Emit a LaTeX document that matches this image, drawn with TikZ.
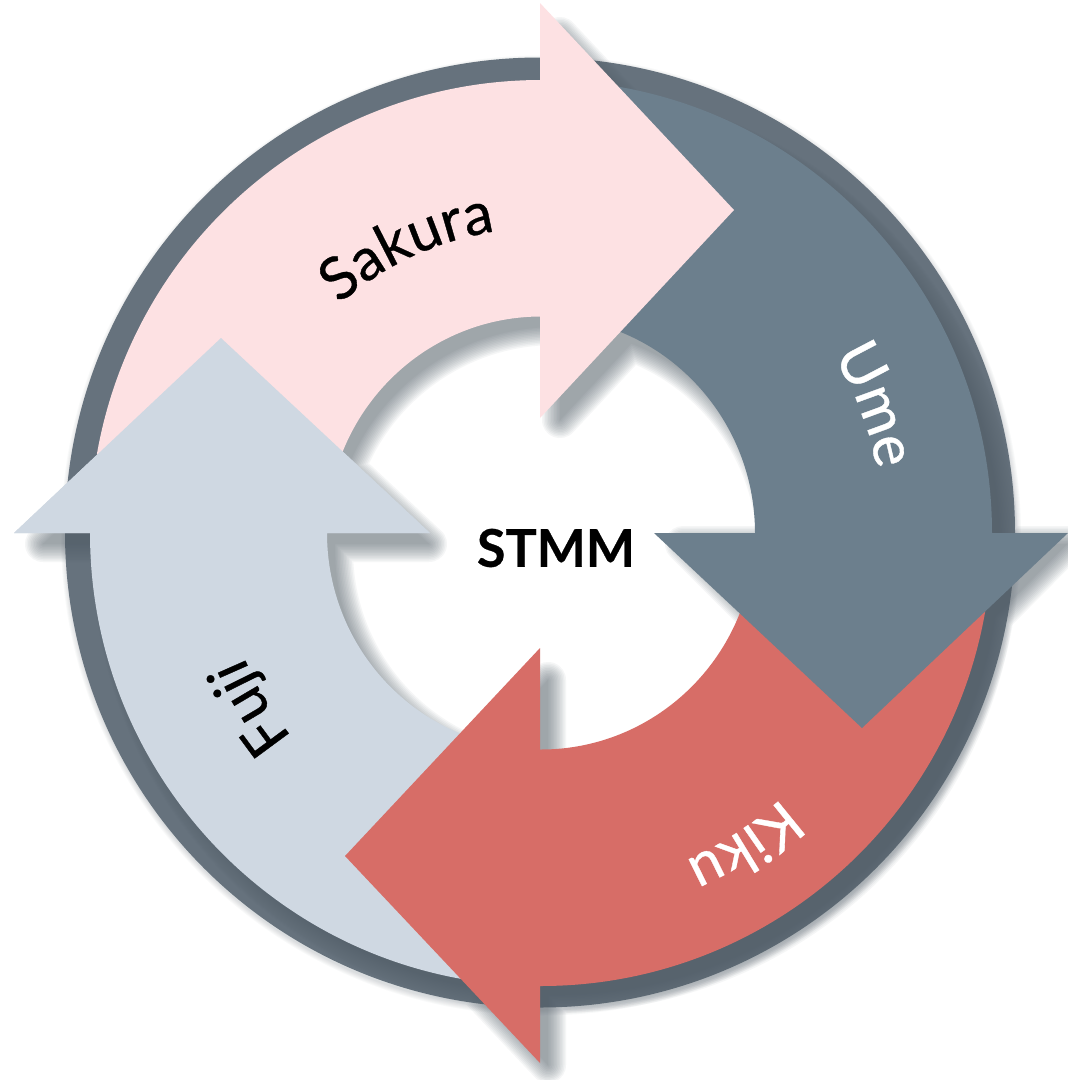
\documentclass[tikz,border=0pt]{standalone}
\usepackage{fontspec}
\usetikzlibrary{decorations.text}
\setmainfont{Lato}
\newfontfamily\lblfont{Lato}[FakeBold=0.6]
\newfontfamily\titlefont{Lato Bold}[FakeBold=0.5]
\definecolor{ringc}{HTML}{66727D}
\definecolor{sakurac}{HTML}{FDE1E3}
\definecolor{umec}{HTML}{6C7F8D}
\definecolor{kikuc}{HTML}{D76D67}
\definecolor{fujic}{HTML}{CFD8E2}
\definecolor{shadowc}{HTML}{505C66}
\newcommand\pathSakura{(541,-533) ++(170:451 and 453) arc[start angle=170,end angle=90,x radius=451,y radius=453] -- (540,-80) -- (540,-3) -- (734,-210) -- (540,-418) -- (540,-316.5) -- (541,-316.5) arc[start angle=90,end angle=170,x radius=214,y radius=216.5] -- cycle}
\newcommand\pathUme{(541,-533) ++(85:451 and 453) arc[start angle=85,end angle=0,x radius=451,y radius=453] -- (1068,-533) -- (862,-728) -- (654,-533) -- (755,-533) arc[start angle=0,end angle=85,x radius=214,y radius=216.5] -- cycle}
\newcommand\pathKiku{(541,-533) ++(-5:451 and 453) arc[start angle=-5,end angle=-90,x radius=451,y radius=453] -- (540,-986) -- (540,-1063) -- (345,-856) -- (540,-648) -- (540,-749.5) -- (541,-749.5) arc[start angle=-90,end angle=-5,x radius=214,y radius=216.5] -- cycle}
\newcommand\pathFuji{(541,-533) ++(-95:451 and 453) arc[start angle=-95,end angle=-180,x radius=451,y radius=453] -- (14,-533) -- (221,-338) -- (430,-533) -- (327,-533) arc[start angle=-180,end angle=-95,x radius=214,y radius=216.5] -- cycle}
\newcommand\pathRing{(540,-532.5) circle[radius=475] (540,-532.5) circle[radius=400]}
% the same arrows, inset by 6 units, from which the soft shadows grow
\newcommand\insetSakura{(541,-533) ++(170:445) arc[start angle=170,end angle=90,radius=445] -- (546,-88) -- (546,-18) -- (726,-210) -- (546,-403) -- (546,-310) -- (541,-310) arc[start angle=90,end angle=170,radius=223] -- cycle}
\newcommand\insetUme{(541,-533) ++(85:445) arc[start angle=85,end angle=0,radius=445] -- (986,-527) -- (1053,-527) -- (862,-720) -- (669,-527) -- (761,-527) -- (761,-533) arc[start angle=0,end angle=85,radius=220] -- cycle}
\newcommand\insetKiku{(541,-533) ++(-5:445) arc[start angle=-5,end angle=-90,radius=445] -- (534,-978) -- (534,-1048) -- (353,-856) -- (534,-663) -- (534,-753) -- (541,-753) arc[start angle=-90,end angle=-5,radius=220] -- cycle}
\newcommand\insetFuji{(541,-533) ++(-95:445) arc[start angle=-95,end angle=-180,radius=445] -- (96,-527) -- (29,-527) -- (221,-346) -- (415,-527) -- (321,-527) -- (321,-533) arc[start angle=-180,end angle=-95,radius=220] -- cycle}
\tikzset{
  shadowlayer/.style={draw=shadowc,fill=shadowc,line join=round,even odd rule},
  curvedlabel/.style={decorate,decoration={text along path,text align=center,text={#1}}}
}
\begin{document}
\begin{tikzpicture}[x=1pt,y=1pt]
\useasboundingbox (0,-1080) rectangle (1068,0);
\fill[white] (0,-1080) rectangle (1068,0);
% faint shadow of the ring
\foreach \w in {0.2,2,4,6,8,10}{
  \begin{scope}[transparency group,opacity=0.035,shift={(1,-3)}]
    \path[shadowlayer,line width=\w pt] \pathRing;
  \end{scope}
}
\fill[ringc,even odd rule] \pathRing;
% soft shadows of the arrows, falling on the ring and behind all arrows
\foreach \w in {0.2,3,6,...,36}{
  \begin{scope}[transparency group,opacity=0.056,shift={(14,-17)}]
    \path[shadowlayer,line width=\w pt] \insetSakura;
    \path[shadowlayer,line width=\w pt] \insetUme;
    \path[shadowlayer,line width=\w pt] \insetKiku;
    \path[shadowlayer,line width=\w pt] \insetFuji;
  \end{scope}
}
\fill[fujic] \pathFuji;
\fill[kikuc] \pathKiku;
\fill[umec] \pathUme;
\fill[sakurac] \pathSakura;
\fill[fujic] (14,-533) -- (221,-338) -- (430,-533) -- cycle;
% curved labels
\begin{scope}[shift={(541,-533)}]
\path[curvedlabel={|\fontsize{59}{64}\lblfont|Sakura}] (155:305) arc[start angle=155,end angle=75,radius=305];
\path[curvedlabel={|\color{white}\fontsize{59}{64}\lblfont|Ume}] (61:342) arc[start angle=61,end angle=-19,radius=342];
\path[curvedlabel={|\color{white}\fontsize{59}{64}\lblfont|Kiku}] (-17:358) arc[start angle=-17,end angle=-97,radius=358];
\path[curvedlabel={|\fontsize{59}{64}\lblfont|Fuji}] (251:322) arc[start angle=251,end angle=171,radius=322];
\end{scope}
\node[font=\fontsize{52}{60}\selectfont\titlefont,inner sep=0pt] (stmm) at (556,-548) {STMM};
\end{tikzpicture}
\end{document}
